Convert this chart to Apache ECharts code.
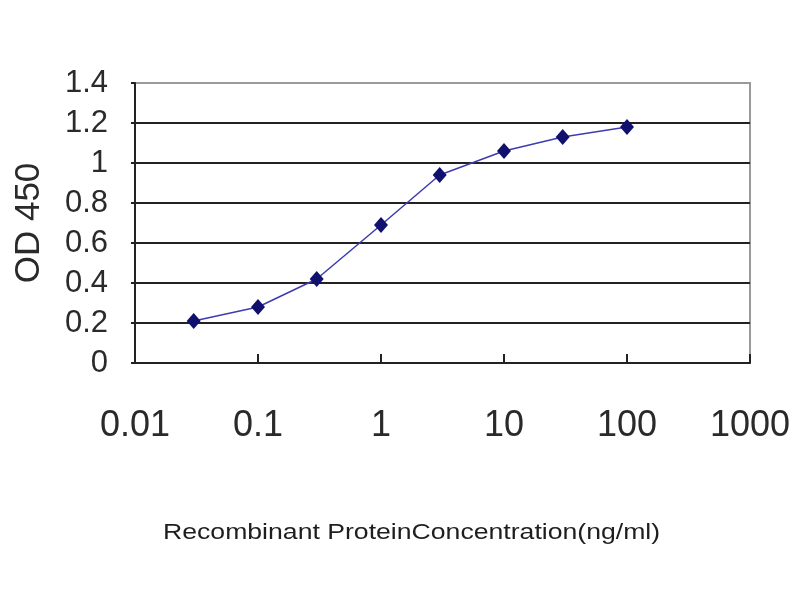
<!DOCTYPE html>
<html>
<head>
<meta charset="utf-8">
<script src="https://cdn.jsdelivr.net/npm/echarts@6/dist/echarts.min.js"></script>
<style>
  html, body { margin: 0; padding: 0; background: #fff; }
  #chart { width: 800px; height: 600px; }
</style>
</head>
<body>
<div id="chart"></div>
<script>
// concentration (ng/ml) and OD 450 readings
const concentrations = [0.03, 0.1, 0.3, 1, 3, 10, 30, 100];
const odValues = [0.21, 0.28, 0.42, 0.69, 0.94, 1.06, 1.13, 1.18];
const xTickLabels = ['0.01', '0.1', '1', '10', '100', '1000'];
const yTickLabels = ['0', '0.2', '0.4', '0.6', '0.8', '1', '1.2', '1.4'];

const initChart = () => {
  const myChart = echarts.init(document.getElementById('chart'));

  const points = concentrations.map((c, i) => [c, odValues[i]]);

  myChart.setOption({
    backgroundColor: '#fff',
    animation: false,
    grid: {
      left: 135, right: 50, top: 83, bottom: 237,
      outerBoundsMode: 'none',
      containLabel: false,
      show: true, borderColor: '#9a9a9a', borderWidth: 2, backgroundColor: '#fff'
    },
    xAxis: {
      type: 'log',
      logBase: 10,
      min: 0.01,
      max: 1000,
      axisLine: { lineStyle: { color: '#222', width: 2 } },
      axisTick: { inside: true, length: 9, lineStyle: { color: '#222', width: 2 } },
      splitLine: { show: false },
      axisLabel: {
        margin: 45,
        fontFamily: 'Liberation Sans',
        fontSize: 36,
        color: '#2a2a2a',
        formatter: (v) => xTickLabels[Math.round(Math.log10(v)) + 2]
      }
    },
    yAxis: {
      type: 'value',
      min: 0,
      max: 1.4,
      interval: 0.2,
      name: 'OD 450',
      nameLocation: 'middle',
      nameGap: 88,
      nameTextStyle: { fontFamily: 'Liberation Sans', fontSize: 35, color: '#2a2a2a' },
      axisLine: { show: true, lineStyle: { color: '#222', width: 2 } },
      axisTick: { show: true, length: 4, lineStyle: { color: '#222', width: 2 } },
      splitLine: {
        lineStyle: {
          color: ['#222', '#222', '#222', '#222', '#222', '#222', '#222', '#9a9a9a'],
          width: 2
        }
      },
      axisLabel: {
        margin: 27,
        fontFamily: 'Liberation Sans',
        fontSize: 31,
        color: '#2a2a2a',
        formatter: (v) => yTickLabels[Math.round(v / 0.2)]
      }
    },
    graphic: [{
      type: 'text',
      left: 163,
      top: 522,
      scaleX: 1.21,
      style: {
        text: 'Recombinant ProteinConcentration(ng/ml)',
        fontFamily: 'Liberation Sans',
        fontSize: 22,
        fill: '#1e1e1e'
      }
    }],
    series: [{
      type: 'line',
      data: points,
      symbol: 'diamond',
      symbolSize: [14, 16],
      lineStyle: { color: '#3c3cb0', width: 1.5 },
      itemStyle: { color: '#10106e' },
      z: 5
    }]
  });
};

window.addEventListener('load', initChart);
</script>
</body>
</html>
